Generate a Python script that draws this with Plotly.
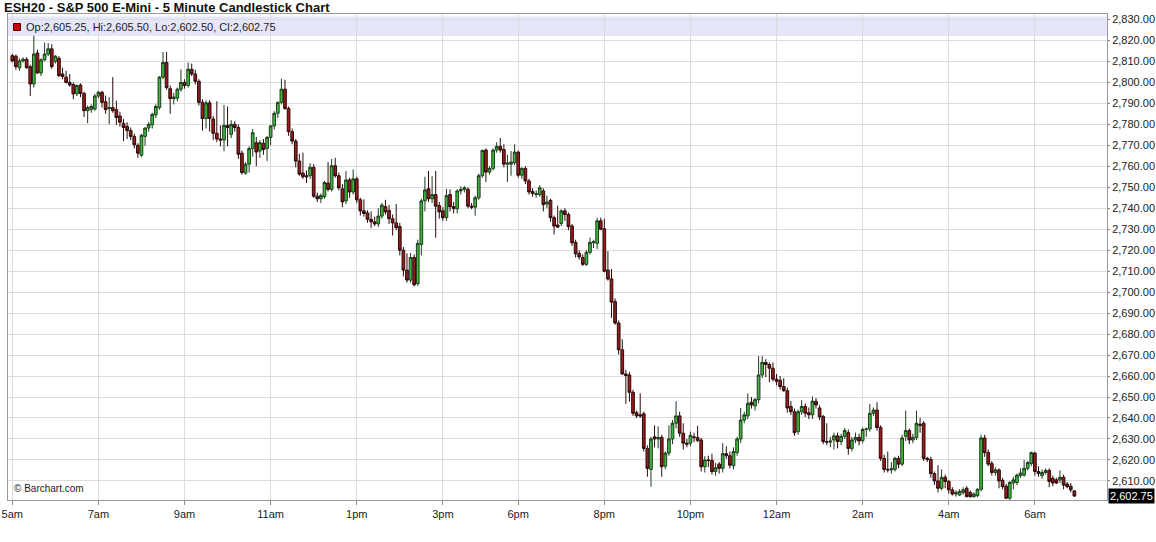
import pandas as pd
import plotly.graph_objects as go

TITLE = "ESH20 - S&P 500 E-Mini - 5 Minute Candlestick Chart"

# session segments (5-minute bars)
SEGMENTS = [("2020-03-05 05:00", "2020-03-05 16:10"),
            ("2020-03-05 16:30", "2020-03-05 16:55"),
            ("2020-03-05 18:00", "2020-03-06 06:55")]

TICK_TIMES = ["05:00", "07:00", "09:00", "11:00", "13:00", "15:00", "18:00",
              "20:00", "22:00", "00:00", "02:00", "04:00", "06:00"]
TICK_LABELS = ["5am", "7am", "9am", "11am", "1pm", "3pm", "6pm",
               "8pm", "10pm", "12am", "2am", "4am", "6am"]

Y_TICKS = list(range(2610, 2831, 10))

opens = [
 2812.75,2812.5,2807.0,2810.25,2811.0,2807.5,2799.25,2814.0,2804.5,2810.75,
 2813.5,2816.0,2810.0,2811.5,2804.0,2802.5,2800.0,2799.0,2794.5,2798.75,
 2794.75,2786.5,2787.0,2787.25,2793.5,2795.25,2790.75,2787.5,2788.0,2787.0,
 2784.0,2780.5,2779.0,2777.0,2774.25,2770.0,2765.25,2774.25,2778.25,2779.75,
 2784.5,2788.0,2802.5,2809.5,2797.0,2792.25,2792.5,2796.75,2800.0,2798.5,
 2806.25,2804.0,2800.5,2790.5,2782.75,2790.25,2782.5,2775.75,2773.0,2772.5,
 2779.5,2775.25,2780.0,2778.5,2766.25,2756.75,2761.0,2768.5,2771.25,2767.25,
 2771.0,2768.5,2773.75,2779.25,2785.25,2790.5,2796.75,2787.5,2776.5,2772.0,
 2762.5,2756.75,2755.5,2755.5,2759.5,2745.75,2744.5,2745.5,2752.0,2749.0,
 2760.25,2755.5,2749.25,2743.5,2753.5,2747.75,2754.0,2744.0,2738.75,2737.75,
 2734.75,2733.5,2732.5,2736.25,2740.75,2739.0,2735.0,2733.0,2731.25,2720.0,
 2710.5,2705.75,2716.5,2704.0,2722.75,2743.5,2749.25,2744.5,2746.5,2741.25,
 2738.75,2735.5,2746.5,2740.75,2739.75,2748.25,2749.0,2749.0,2741.0,2740.5,
 2745.0,2755.5,2767.75,2757.25,2759.0,2767.75,2769.5,2768.0,2761.0,2761.0,
 2761.75,2766.75,2755.75,2759.0,2753.0,2748.0,2746.5,2746.5,2748.25,2742.0,
 2743.75,2735.5,2732.0,2732.75,2738.75,2737.0,2731.5,2723.75,2718.5,2716.5,
 2713.25,2719.0,2723.5,2723.25,2734.0,2730.25,2710.5,2706.25,2695.5,2685.25,
 2672.5,2661.0,2660.5,2652.25,2642.5,2641.5,2642.0,2625.5,2615.5,2631.0,
 2630.0,2630.75,2617.0,2623.25,2630.0,2637.5,2641.0,2632.75,2628.0,2628.0,
 2631.0,2630.75,2629.5,2616.75,2620.0,2619.75,2614.5,2618.0,2616.0,2623.0,
 2622.0,2617.25,2623.5,2630.0,2639.0,2641.0,2647.5,2645.75,2648.75,2660.5,
 2666.5,2665.5,2663.75,2658.5,2658.0,2655.0,2653.0,2645.5,2643.0,2633.5,
 2643.0,2645.5,2642.5,2641.5,2648.0,2644.75,2640.75,2628.75,2628.5,2629.5,
 2631.5,2628.75,2631.25,2633.0,2625.5,2629.5,2630.75,2629.25,2634.5,2634.75,
 2642.25,2643.75,2635.5,2620.75,2615.5,2615.25,2615.5,2620.75,2618.0,2631.25,
 2634.0,2629.5,2630.75,2637.0,2637.5,2620.75,2620.25,2613.5,2610.0,2606.5,
 2611.75,2609.75,2605.75,2603.75,2603.25,2604.5,2606.5,2604.5,2602.5,2603.0,
 2606.0,2630.5,2623.5,2618.25,2614.0,2615.25,2610.25,2607.5,2601.75,2609.0,
 2609.25,2612.5,2612.75,2616.0,2618.25,2623.25,2614.5,2612.5,2614.0,2615.0,
 2611.25,2610.5,2610.5,2611.75,2608.5,2607.5,2605.25]

highs = [
 2813.5,2813.25,2811.5,2812.0,2812.0,2808.5,2822.25,2815.5,2811.5,2819.0,
 2818.75,2818.25,2813.0,2812.5,2807.0,2805.5,2804.0,2800.0,2799.0,2799.5,
 2795.5,2789.0,2789.5,2794.5,2796.0,2796.0,2793.75,2793.0,2802.5,2791.25,
 2786.0,2782.5,2781.0,2778.5,2775.5,2771.0,2775.5,2778.5,2781.0,2785.5,
 2789.5,2803.0,2814.5,2814.5,2798.5,2795.0,2797.5,2806.25,2801.5,2809.5,
 2809.0,2806.0,2801.5,2792.0,2791.5,2791.5,2784.0,2791.0,2779.5,2789.25,
 2788.5,2782.0,2781.5,2780.0,2767.5,2762.0,2769.5,2777.75,2774.0,2772.5,
 2773.0,2774.5,2779.5,2786.25,2790.75,2801.75,2801.25,2788.5,2778.0,2773.0,
 2766.0,2766.5,2758.0,2761.5,2761.0,2747.5,2747.0,2753.0,2762.0,2763.5,
 2764.0,2757.0,2751.5,2757.75,2754.5,2758.5,2755.0,2745.0,2744.25,2739.0,
 2738.5,2736.0,2740.0,2742.5,2744.0,2741.5,2737.0,2742.0,2733.0,2721.5,
 2718.5,2718.75,2718.0,2725.0,2744.5,2755.0,2757.75,2755.25,2757.75,2743.0,
 2740.5,2749.25,2749.0,2743.0,2749.0,2750.5,2750.5,2750.0,2742.5,2746.0,
 2756.5,2768.0,2768.5,2760.0,2768.5,2771.5,2773.5,2770.5,2765.5,2767.25,
 2770.5,2767.5,2759.5,2760.0,2754.0,2749.5,2748.5,2751.0,2749.5,2746.0,
 2744.5,2736.5,2741.25,2739.5,2740.0,2738.0,2732.5,2725.0,2720.0,2718.0,
 2720.0,2726.0,2725.0,2735.5,2735.5,2735.0,2719.5,2711.0,2697.0,2686.5,
 2677.5,2663.0,2662.0,2653.5,2643.5,2651.75,2643.0,2627.0,2631.0,2636.5,
 2636.0,2632.0,2624.0,2636.5,2639.0,2648.0,2643.0,2637.5,2630.0,2633.5,
 2633.0,2636.25,2630.5,2621.75,2622.0,2623.0,2618.5,2619.0,2628.0,2626.5,
 2624.0,2626.0,2631.0,2644.75,2643.0,2651.75,2650.0,2649.5,2669.5,2669.5,
 2668.0,2666.5,2666.5,2661.0,2660.0,2659.0,2654.5,2648.0,2644.5,2644.0,
 2648.5,2647.0,2645.0,2650.25,2649.5,2646.0,2641.5,2637.5,2631.0,2633.0,
 2633.0,2632.5,2635.25,2634.5,2631.0,2633.0,2632.5,2635.5,2635.5,2646.75,
 2645.0,2647.5,2636.5,2622.5,2624.0,2619.0,2621.5,2622.0,2632.0,2643.5,
 2635.0,2632.5,2643.5,2640.0,2638.5,2621.5,2621.5,2614.5,2617.5,2615.5,
 2613.0,2610.5,2607.0,2605.5,2606.0,2607.0,2607.5,2605.5,2604.5,2606.5,
 2632.0,2632.0,2625.0,2619.5,2616.5,2616.0,2611.5,2608.5,2610.0,2612.0,
 2613.5,2616.0,2620.0,2619.5,2624.0,2624.0,2617.0,2615.5,2616.0,2616.0,
 2612.5,2611.5,2615.0,2613.0,2609.5,2609.0,2605.5]

lows = [
 2809.5,2806.0,2805.5,2809.5,2806.5,2793.5,2797.5,2804.0,2803.0,2810.0,
 2812.5,2806.5,2809.0,2802.5,2801.5,2799.5,2798.0,2792.0,2793.5,2793.0,
 2783.5,2780.5,2785.5,2786.5,2792.5,2788.0,2785.0,2780.0,2785.5,2779.75,
 2779.0,2772.0,2773.0,2772.5,2768.5,2764.0,2764.5,2769.75,2776.5,2778.0,
 2783.0,2787.0,2801.5,2796.5,2785.0,2789.5,2791.0,2795.5,2797.0,2797.5,
 2803.0,2799.0,2789.0,2777.0,2778.0,2776.5,2772.5,2771.5,2769.5,2767.25,
 2769.5,2773.5,2776.5,2763.5,2756.0,2756.0,2757.0,2764.5,2760.0,2764.0,
 2765.5,2762.5,2770.0,2777.5,2783.0,2789.5,2787.0,2774.5,2770.5,2759.5,
 2755.5,2754.0,2752.0,2754.0,2745.0,2743.0,2742.5,2744.5,2748.0,2748.0,
 2754.5,2748.5,2740.5,2742.0,2745.0,2746.5,2742.5,2736.5,2736.0,2733.0,
 2730.5,2731.5,2731.0,2735.0,2737.0,2732.5,2727.0,2729.5,2717.5,2707.5,
 2704.5,2704.5,2702.75,2703.0,2717.5,2738.5,2743.0,2742.5,2726.0,2735.0,
 2734.0,2734.0,2738.5,2737.5,2737.5,2746.5,2747.5,2740.0,2739.5,2736.5,
 2744.0,2754.5,2752.5,2756.0,2758.0,2766.5,2766.5,2759.5,2752.5,2755.5,
 2760.5,2754.5,2754.0,2751.5,2746.5,2745.5,2745.0,2745.5,2738.5,2740.0,
 2733.5,2727.5,2730.5,2731.5,2734.0,2729.5,2722.0,2716.5,2715.5,2712.5,
 2712.5,2718.0,2721.0,2720.5,2729.5,2709.5,2705.5,2687.75,2684.5,2670.25,
 2660.5,2646.75,2647.75,2641.0,2640.0,2640.0,2624.0,2612.0,2607.25,2626.0,
 2625.5,2612.0,2615.5,2622.0,2627.5,2635.0,2631.0,2625.0,2626.0,2626.5,
 2628.5,2628.5,2614.5,2614.0,2616.5,2613.0,2612.5,2613.5,2614.0,2620.5,
 2616.0,2615.5,2622.0,2628.0,2637.5,2639.5,2644.5,2643.5,2647.0,2659.0,
 2659.5,2657.0,2657.5,2655.5,2653.5,2652.5,2642.5,2641.5,2631.5,2632.0,
 2641.5,2640.5,2639.5,2639.5,2644.5,2639.0,2627.5,2627.0,2626.0,2625.0,
 2625.5,2627.0,2630.0,2622.5,2624.0,2628.0,2627.0,2628.0,2631.0,2633.5,
 2641.0,2634.0,2619.5,2614.0,2614.0,2613.5,2614.5,2616.0,2617.0,2629.0,
 2627.5,2628.0,2629.5,2633.0,2619.5,2619.0,2611.5,2608.0,2604.5,2605.5,
 2606.5,2604.0,2603.0,2602.5,2602.75,2603.5,2602.25,2602.0,2602.0,2602.25,
 2605.0,2621.5,2617.0,2612.5,2612.5,2606.5,2606.0,2601.5,2601.0,2606.0,
 2608.0,2611.5,2612.0,2615.0,2617.0,2612.5,2612.0,2611.0,2613.0,2607.0,
 2607.5,2608.5,2609.0,2606.0,2606.5,2604.5,2602.5]

closes = [
 2810.25,2807.5,2810.25,2811.0,2807.0,2799.25,2813.5,2804.5,2810.75,2813.5,
 2816.0,2807.5,2812.5,2803.25,2802.75,2800.0,2798.75,2794.5,2798.5,2794.75,
 2786.5,2788.0,2788.5,2793.5,2795.25,2790.5,2787.0,2788.0,2786.5,2783.25,
 2781.0,2778.5,2777.0,2774.25,2770.25,2766.25,2774.75,2778.25,2780.0,2784.75,
 2788.5,2802.5,2809.5,2797.5,2792.25,2793.0,2796.75,2800.0,2798.5,2806.25,
 2804.0,2800.5,2790.5,2782.75,2790.25,2782.75,2775.75,2773.0,2772.5,2779.5,
 2778.5,2780.0,2778.5,2765.75,2757.0,2761.0,2768.5,2776.0,2766.75,2771.25,
 2768.0,2773.75,2779.25,2785.25,2790.5,2796.75,2787.5,2776.5,2772.0,2762.5,
 2756.25,2755.0,2755.0,2759.5,2745.75,2744.5,2746.0,2752.25,2749.0,2760.25,
 2755.5,2749.75,2743.0,2753.5,2747.75,2754.0,2744.0,2738.75,2737.5,2734.75,
 2733.5,2732.5,2736.25,2741.5,2738.25,2735.0,2733.0,2730.75,2720.0,2710.5,
 2705.75,2716.5,2703.5,2723.25,2743.5,2748.75,2744.5,2746.5,2741.0,2738.25,
 2735.5,2746.0,2740.75,2739.75,2748.25,2749.0,2749.75,2741.0,2740.5,2745.0,
 2755.5,2767.5,2757.25,2759.0,2767.75,2769.5,2767.75,2761.0,2761.5,2762.0,
 2766.75,2755.75,2759.0,2753.0,2747.75,2747.0,2747.0,2749.75,2741.75,2743.0,
 2735.5,2731.5,2731.0,2738.75,2737.0,2731.25,2723.5,2718.25,2716.75,2713.25,
 2719.0,2723.75,2724.0,2734.0,2730.0,2710.0,2706.25,2695.25,2685.25,2672.5,
 2661.0,2660.25,2652.25,2642.25,2641.0,2641.0,2625.5,2616.0,2630.0,2630.0,
 2630.75,2616.75,2623.25,2630.0,2637.5,2641.0,2632.75,2628.0,2627.5,2631.75,
 2630.75,2629.25,2616.75,2620.0,2619.75,2614.5,2616.25,2616.0,2623.0,2622.0,
 2617.5,2624.0,2630.0,2639.0,2641.5,2647.0,2646.25,2648.75,2660.5,2666.5,
 2665.5,2663.75,2658.5,2657.5,2655.0,2653.0,2644.75,2643.0,2633.0,2643.0,
 2645.5,2642.25,2641.5,2648.0,2646.25,2640.5,2628.75,2628.5,2629.0,2631.5,
 2628.75,2631.25,2634.0,2625.5,2629.5,2630.75,2629.0,2634.5,2634.75,2642.25,
 2643.75,2635.5,2620.75,2615.5,2615.25,2615.75,2620.75,2618.0,2630.5,2634.0,
 2629.5,2630.75,2637.5,2636.5,2620.75,2620.25,2613.5,2610.0,2606.5,2611.75,
 2609.75,2605.75,2603.75,2604.5,2605.0,2605.75,2602.5,2602.5,2603.75,2606.0,
 2630.5,2623.5,2618.0,2614.0,2615.25,2610.0,2607.25,2601.75,2609.25,2610.5,
 2612.75,2613.75,2616.0,2618.75,2623.5,2614.5,2613.5,2614.0,2615.0,2609.75,
 2609.0,2609.0,2611.75,2608.0,2607.25,2605.75,2602.75]

# ---- build the x positions from the session times ----
times = []
for start, end in SEGMENTS:
    times.extend(pd.date_range(start, end, freq="5min"))
x_idx = list(range(len(times)))
time_str = [t.strftime("%H:%M") for t in times]
tickvals = []
pos = 0
for tt in TICK_TIMES:
    for i in range(pos, len(time_str)):
        if time_str[i] == tt:
            tickvals.append(i)
            pos = i + 1
            break

FONT = "Arial, 'Liberation Sans', sans-serif"

fig = go.Figure()
fig.add_trace(go.Candlestick(
    x=x_idx, open=opens, high=highs, low=lows, close=closes,
    increasing=dict(line=dict(color="#1f3a1f", width=1), fillcolor="#3cba3c"),
    decreasing=dict(line=dict(color="#2a0a0a", width=1), fillcolor="#991b1b"),
    whiskerwidth=0, showlegend=False, hoverinfo="skip",
))

# legend band with last bar values
last = len(closes) - 1
legend_text = "Op:{:,.2f}, Hi:{:,.2f}, Lo:{:,.2f}, Cl:{:,.2f}".format(
    opens[last], highs[last], lows[last], closes[last])

PLOT_H = 486.0
PLOT_W = 1099.0
def py(pix):
    return (500.0 - pix) / PLOT_H
def px(pix):
    return (pix - 8.0) / PLOT_W

fig.add_shape(type="rect", xref="paper", yref="paper", x0=0, x1=1,
              y0=py(36), y1=py(16.5), fillcolor="#e6e6fa", line=dict(width=0),
              layer="below")
fig.add_shape(type="rect", xref="paper", yref="paper",
              x0=px(13.5), x1=px(20.5), y0=py(30.5), y1=py(23.5),
              fillcolor="#cc0000", line=dict(color="#550000", width=1))
fig.add_annotation(xref="paper", yref="paper", x=px(24), y=py(27),
                   xanchor="left", yanchor="middle", showarrow=False,
                   text=legend_text, font=dict(family=FONT, size=11, color="#222"))

# title
fig.add_annotation(xref="paper", yref="paper", x=px(2), y=py(8),
                   xanchor="left", yanchor="middle", showarrow=False,
                   text="<b>" + TITLE + "</b>",
                   font=dict(family=FONT, size=13, color="#111"))

# copyright
fig.add_annotation(xref="paper", yref="paper", x=px(12), y=py(488),
                   xanchor="left", yanchor="middle", showarrow=False,
                   text="© Barchart.com", font=dict(family=FONT, size=10, color="#222"))

# last price box
fig.add_annotation(xref="paper", yref="y", x=1.0, y=closes[last],
                   xanchor="left", yanchor="middle", showarrow=False,
                   text="{:,.2f}".format(closes[last]), bgcolor="#000000",
                   font=dict(family=FONT, size=11, color="#ffffff"),
                   borderpad=1, xshift=1)

fig.update_layout(
    width=1156, height=542,
    margin=dict(l=8, r=49, t=14, b=42, autoexpand=False),
    paper_bgcolor="#ffffff", plot_bgcolor="#ffffff",
    font=dict(family=FONT, size=11, color="#222"),
    boxgap=0.25, boxgroupgap=0,
    xaxis=dict(
        range=[-1.2, 305.1], rangeslider=dict(visible=False),
        tickmode="array", tickvals=tickvals, ticktext=TICK_LABELS,
        showgrid=True, gridcolor="#dcdcdc", gridwidth=1,
        ticks="outside", ticklen=4, tickcolor="#888",
        showline=True, linecolor="#999", mirror=True, automargin=False,
        zeroline=False, tickfont=dict(family=FONT, size=11, color="#222"),
    ),
    yaxis=dict(
        range=[2600.9, 2832.6], side="right",
        tickmode="array", tickvals=Y_TICKS,
        ticktext=["{:,.2f}".format(v) for v in Y_TICKS],
        showgrid=True, gridcolor="#dcdcdc", gridwidth=1,
        ticks="outside", ticklen=2, tickcolor="#888",
        showline=True, linecolor="#999", mirror=True, automargin=False,
        zeroline=False, tickfont=dict(family=FONT, size=11, color="#222"),
    ),
)

fig.write_html("out.html",
               config={"displayModeBar": False, "staticPlot": True},
               post_script="document.body.style.margin='0';"
                           "document.body.style.overflow='hidden';")
